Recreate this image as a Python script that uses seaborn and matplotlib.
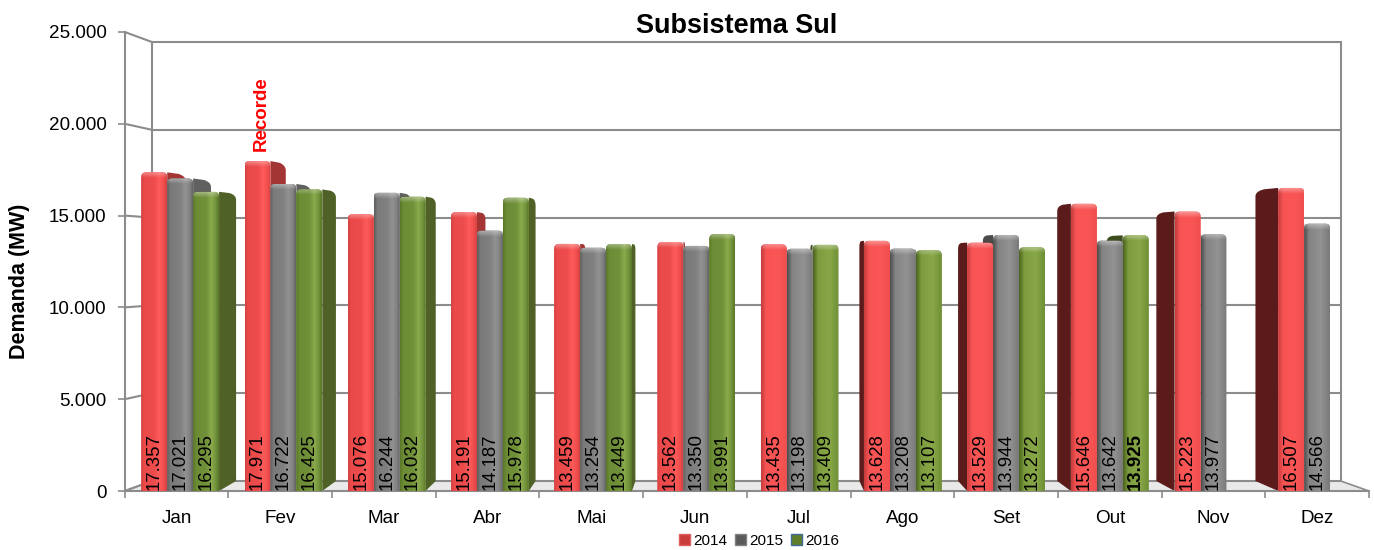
import numpy as np
import pandas as pd
import seaborn as sns
import matplotlib
matplotlib.use("Agg")
import matplotlib.pyplot as plt
from matplotlib.patches import Polygon, PathPatch, Patch
from matplotlib.path import Path
from matplotlib.colors import LinearSegmentedColormap

# ---- data ----
months = ["Jan", "Fev", "Mar", "Abr", "Mai", "Jun", "Jul", "Ago", "Set", "Out", "Nov", "Dez"]
years = ["2014", "2015", "2016"]
v2014 = [17357, 17971, 15076, 15191, 13459, 13562, 13435, 13628, 13529, 15646, 15223, 16507]
v2015 = [17021, 16722, 16244, 14187, 13254, 13350, 13198, 13208, 13944, 13642, 13977, 14566]
v2016 = [16295, 16425, 16032, 15978, 13449, 13991, 13409, 13107, 13272, 13925, np.nan, np.nan]
yticks = [0, 5000, 10000, 15000, 20000, 25000]
ylabels = ["0", "5.000", "10.000", "15.000", "20.000", "25.000"]

sns.set_theme(style="white")
plt.rcParams["font.family"] = ["Liberation Sans", "DejaVu Sans"]

W, H = 1374, 550
fig = plt.figure(figsize=(W / 100, H / 100), dpi=100)
L, R, T, B = 124.7, 1369.0, 32.0, 491.0
ax = fig.add_axes([L / W, 1 - B / H, (R - L) / W, (B - T) / H])

df = pd.DataFrame({
    "mes": months * 3,
    "ano": sum([[y] * 12 for y in years], []),
    "valor": v2014 + v2015 + v2016,
})
base = {"2014": "#f25050", "2015": "#848484", "2016": "#7a9a3c"}
sns.barplot(data=df, x="mes", y="valor", hue="ano", order=months, hue_order=years,
            palette=base, width=0.75, gap=0, saturation=1, legend=False, ax=ax, zorder=3)

PXX = 1 / ((R - L) / 12)
PXY = 25000 / (B - T)
GRID = "#8c8c8c"
CV = 12500.0
GV = 0.0435


def back(x, v, f, cx):
    return x + (cx - x) * f, v + (CV - v) * GV


def px2cat(px):
    return (px - L) * PXX - 0.5


# ---- walls and floor ----
WF, WC = 0.0445, px2cat(735)
xl, xr = -0.5, 11.5
xbl, _ = back(xl, 0, WF, WC)
xbr, _ = back(xr, 0, WF, WC)
_, vb0 = back(xl, 0, WF, WC)
_, vb1 = back(xl, 25000, WF, WC)
ax.add_patch(Polygon([(xl, 0), (xbl, vb0), (xbr, vb0), (xr, 0)], closed=True,
                     facecolor="#e9e9e9", edgecolor=GRID, lw=1.2, zorder=1, clip_on=False))
for t in yticks:
    xb, vb = back(xl, t, WF, WC)
    ax.plot([xl, xb], [t, vb], color=GRID, lw=1.5, zorder=1.5, clip_on=False)
    ax.plot([xb, xbr], [vb, vb], color=GRID, lw=1.5, zorder=1.5, clip_on=False)
ax.plot([xbl, xbl], [vb0, vb1], color=GRID, lw=1.5, zorder=1.5)
ax.plot([xbr, xbr], [vb0, vb1], color=GRID, lw=1.5, zorder=1.5)

# ---- 3D look of the bars ----
ramps = {
    "2014": (["#d64242", "#ea4a4a", "#ee4c4c", "#ff5b5b", "#ee4c4c", "#d64242"],
             ["#c83c3c", "#f85454", "#fa5656", "#f04e4e"],
             ["#a33535", "#5c1b1b"]),
    "2015": (["#5e5e5e", "#7a7a7a", "#808080", "#929292", "#808080", "#646464"],
             ["#4e4e4e", "#848484", "#929292", "#7a7a7a"],
             ["#606060", "#4a4a4a"]),
    "2016": (["#5a7828", "#6d8c36", "#70903a", "#8aaa4c", "#70903a", "#5a7828"],
             ["#4c6420", "#7c9c3e", "#88a848", "#6f8f36"],
             ["#4f6127", "#3d4d1e"]),
}
RF, RC = 0.033, px2cat(735)   # right-hand side faces (left half of the chart)
LF, LC = 0.044, px2cat(760)   # left-hand side faces (right half of the chart)
ramp_img = np.linspace(0, 1, 48)[None, :]
top_img = np.zeros((12, 2, 4))
top_img[..., 3] = np.linspace(0.35, 0.0, 12)[:, None]
top_img[..., :3] = 1.0


def rounded_top(x0, x1, v):
    rx, ry = 5 * PXX, 4.5 * PXY
    verts = [(x0, 0), (x0, v - ry), (x0, v), (x0 + rx, v), (x1 - rx, v), (x1, v), (x1, v - ry), (x1, 0), (x0, 0)]
    codes = [Path.MOVETO, Path.LINETO, Path.CURVE3, Path.CURVE3, Path.LINETO, Path.CURVE3, Path.CURVE3,
             Path.LINETO, Path.CLOSEPOLY]
    return Path(verts, codes)


for yr, cont in zip(years, ax.containers):
    stops, rstops, sidecols = ramps[yr]
    for bar in cont:
        h = bar.get_height()
        if not np.isfinite(h) or h <= 0:
            continue
        xc = bar.get_x() + bar.get_width() / 2
        cat = int(round(xc))
        shift = 0.035 * max(0.0, 1 - cat / 8)
        bar.set_x(bar.get_x() + shift)
        x0, x1 = bar.get_x(), bar.get_x() + bar.get_width()
        clip = PathPatch(rounded_top(x0, x1, h), transform=ax.transData)
        bar.set_clip_path(clip)
        bar.set_linewidth(0)

        # side face
        left_half = cat <= 5
        xf = x1 if left_half else x0
        f, cx = (RF, RC) if left_half else (LF, LC)
        xb, vt = back(xf, h, f, cx)
        _, v0 = back(xf, 0, f, cx)
        ry = 5 * PXY
        verts = [(xf, 0), (xf, h), (xf + (xb - xf) * 0.6, vt + (h - vt) * 0.6), (xb, vt), (xb, vt - ry), (xb, v0), (xf, 0)]
        codes = [Path.MOVETO, Path.LINETO, Path.LINETO, Path.CURVE3, Path.CURVE3, Path.LINETO, Path.CLOSEPOLY]
        ax.add_patch(PathPatch(Path(verts, codes), facecolor=sidecols[0 if left_half else 1],
                               edgecolor="none", zorder=2.5))

        # front face shading
        if left_half:
            cm = LinearSegmentedColormap.from_list("f", list(zip([0, 0.12, 0.5, 0.72, 0.9, 1], stops)))
        else:
            cm = LinearSegmentedColormap.from_list("f", list(zip([0, 0.2, 0.65, 1], rstops)))
        im = ax.imshow(ramp_img, extent=[x0, x1, 0, h], aspect="auto", cmap=cm, vmin=0, vmax=1,
                       interpolation="bilinear", zorder=3.1)
        im.set_clip_path(clip)
        im2 = ax.imshow(top_img, extent=[x0, x1, h - 6 * PXY, h], aspect="auto",
                        interpolation="bilinear", zorder=3.2)
        im2.set_clip_path(clip)

        # value label
        txt = f"{h / 1000:.3f}"
        bold = (yr == "2016" and cat == 9)
        ax.text((x0 + x1) / 2, 30, txt, rotation=90, ha="center", va="bottom", color="black",
                fontsize=13.4, fontweight="bold" if bold else "normal", zorder=6)

# ---- axes ----
ax.set_xlim(xl, xr)
ax.set_ylim(0, 25000)
ax.set_yticks(yticks, ylabels)
ax.set_xticks(range(12), months)
ax.set_xticks(np.arange(-0.5, 12), minor=True)
ax.set_xlabel("")
ax.set_ylabel("")
ax.tick_params(axis="y", length=5, width=1.2, color=GRID, pad=8, labelsize=13.6, labelcolor="black", left=True)
ax.tick_params(axis="x", which="major", length=0, pad=14, labelsize=13.6, labelcolor="black")
ax.tick_params(axis="x", which="minor", length=5, width=1.2, color=GRID, bottom=True)
for s in ["top", "right"]:
    ax.spines[s].set_visible(False)
for s in ["left", "bottom"]:
    ax.spines[s].set_color(GRID)
    ax.spines[s].set_linewidth(1.5)
ax.patch.set_alpha(0)

fig.text(737 / W, 1 - 26 / H, "Subsistema Sul", ha="center", va="center", fontsize=19.5, fontweight="bold", color="black")
fig.text(20 / W, 1 - 281 / H, "Demanda (MW)", rotation=90, ha="center", va="center", fontsize=15.5,
         fontweight="bold", color="black")
fig.text(261 / W, 1 - 114 / H, "Recorde", rotation=90, ha="center", va="center", fontsize=13.5, fontweight="bold",
         color="#ff0000")

handles = [Patch(facecolor="#c83c3c", edgecolor="#e06060"),
           Patch(facecolor="#5a5a5a", edgecolor="#808080"),
           Patch(facecolor="#5f7d2a", edgecolor="#3f6a9a")]
fig.legend(handles, years, ncol=3, loc="center", bbox_to_anchor=(759 / W, 1 - 541 / H), frameon=False,
           fontsize=11, handlelength=0.75, handleheight=0.75, handletextpad=0.2, columnspacing=0.5,
           borderpad=0, labelcolor="black")

fig.savefig("out.png", dpi=100, facecolor="white")
